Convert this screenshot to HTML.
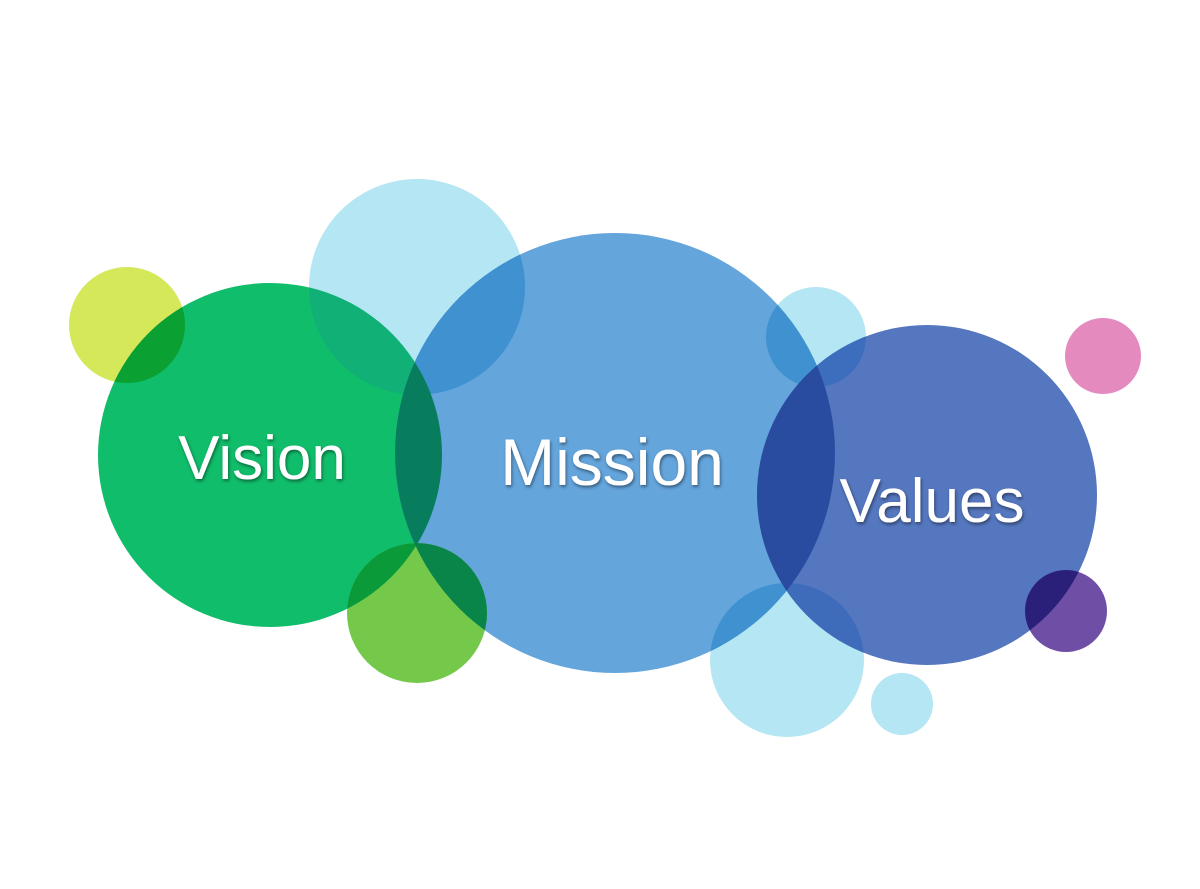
<!DOCTYPE html>
<html><head><style>html,body{margin:0;padding:0;background:#fff;width:1200px;height:889px;overflow:hidden}</style></head>
<body>
<svg width="1200" height="889" viewBox="0 0 1200 889" xmlns="http://www.w3.org/2000/svg">
<defs>
<clipPath id="cY"><circle cx="127" cy="325" r="58"/></clipPath>
<clipPath id="cT"><circle cx="417" cy="287" r="108"/></clipPath>
<clipPath id="cV"><circle cx="270" cy="455" r="172"/></clipPath>
<clipPath id="cM"><circle cx="615" cy="453" r="220"/></clipPath>
<clipPath id="cR"><circle cx="816" cy="337" r="50"/></clipPath>
<clipPath id="cW"><circle cx="927" cy="495" r="170"/></clipPath>
<clipPath id="cG"><circle cx="417" cy="613" r="70"/></clipPath>
<clipPath id="cB"><circle cx="787" cy="660" r="77"/></clipPath>
<clipPath id="cP"><circle cx="1066" cy="611" r="41"/></clipPath>
<filter id="sh" x="-10%" y="-10%" width="120%" height="130%"><feDropShadow dx="1" dy="2" stdDeviation="1.5" flood-color="#000" flood-opacity="0.45"/></filter>
</defs>
<circle cx="127" cy="325" r="58" fill="#d4e85a"/>
<circle cx="417" cy="287" r="108" fill="#b5e6f3"/>
<circle cx="816" cy="337" r="50" fill="#b5e6f3"/>
<circle cx="787" cy="660" r="77" fill="#b5e6f3"/>
<circle cx="902" cy="704" r="31" fill="#b5e6f3"/>
<circle cx="1103" cy="356" r="38" fill="#e48abf"/>
<circle cx="270" cy="455" r="172" fill="#10bd6a"/>
<circle cx="615" cy="453" r="220" fill="#64a5dc"/>
<circle cx="927" cy="495" r="170" fill="#5577bf"/>
<circle cx="417" cy="613" r="70" fill="#74c94a"/>
<circle cx="1066" cy="611" r="41" fill="#6e4fa5"/>
<!-- intersections -->
<g clip-path="url(#cY)"><circle cx="270" cy="455" r="172" fill="#0aa032"/></g>
<g clip-path="url(#cT)"><circle cx="270" cy="455" r="172" fill="#11b076"/><circle cx="615" cy="453" r="220" fill="#3f91d0"/></g>
<g clip-path="url(#cV)"><circle cx="615" cy="453" r="220" fill="#087d5d"/></g>
<g clip-path="url(#cG)"><circle cx="270" cy="455" r="172" fill="#0a9a3a"/><circle cx="615" cy="453" r="220" fill="#098549"/></g>
<g clip-path="url(#cR)"><circle cx="615" cy="453" r="220" fill="#3f91d0"/><circle cx="927" cy="495" r="170" fill="#3d6dbd"/></g>
<g clip-path="url(#cB)"><circle cx="615" cy="453" r="220" fill="#3f91d0"/><circle cx="927" cy="495" r="170" fill="#3f6cba"/></g>
<g clip-path="url(#cM)"><circle cx="927" cy="495" r="170" fill="#2a4ca0"/></g>
<g clip-path="url(#cP)"><circle cx="927" cy="495" r="170" fill="#2b2079"/></g>
<g font-family="Liberation Sans, sans-serif" fill="#fff" text-anchor="middle" filter="url(#sh)">
<text x="262" y="479" font-size="62">Vision</text>
<text x="612" y="485" font-size="66">Mission</text>
<text x="932" y="522" font-size="62">Values</text>
</g>
</svg>
</body></html>
